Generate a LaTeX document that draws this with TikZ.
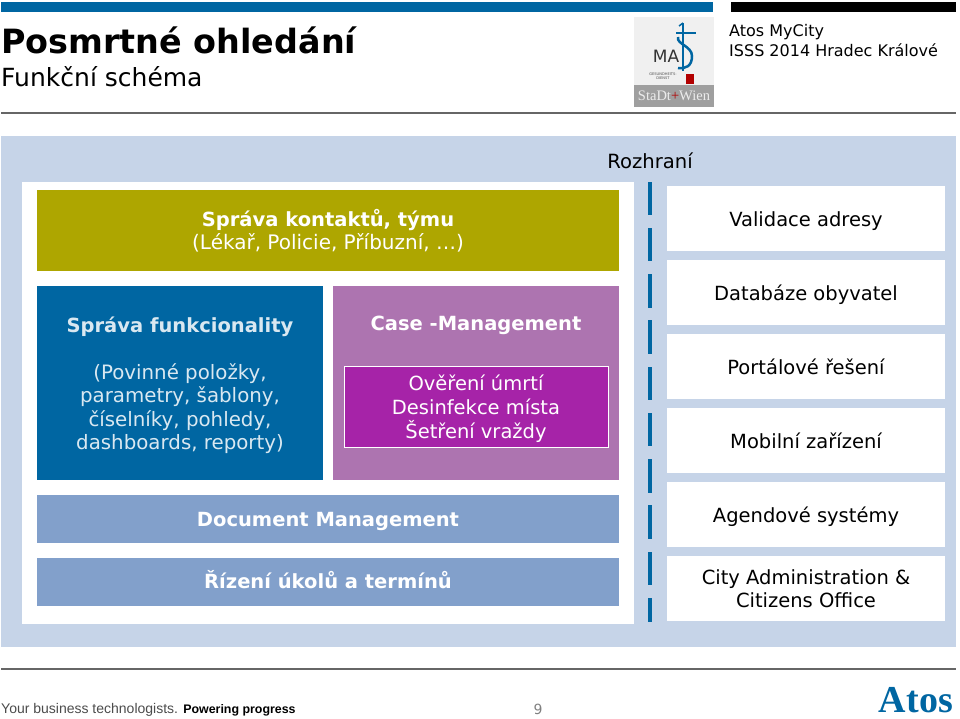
\documentclass[tikz,border=0pt]{standalone}
\usepackage{fontspec}
\setmainfont{DejaVu Sans}
\newfontfamily\footfont{Liberation Sans}
\newfontfamily\logofont{Liberation Serif}
\definecolor{barblue}{HTML}{0066A2}
\definecolor{panelblue}{HTML}{C6D4E8}
\definecolor{oliveb}{HTML}{AEA600}
\definecolor{purpleb}{HTML}{AD74B0}
\definecolor{magentab}{HTML}{A623A8}
\definecolor{steelb}{HTML}{82A0CB}
\definecolor{rulegray}{HTML}{666666}
\tikzset{
  colbox/.style={draw=none,inner sep=0pt,align=center,text=white,font=\fontsize{19.5}{24}\selectfont},
  bandbox/.style={colbox,fill=steelb,minimum width=582pt,minimum height=48pt,text height=14pt,text depth=0pt},
  sidebox/.style={fill=white,inner sep=0pt,align=center,minimum width=278pt,minimum height=65pt,font=\fontsize{19.5}{23.5}\selectfont},
  sideline/.style={sidebox,text height=15pt,text depth=0pt}
}
\begin{document}
\begin{tikzpicture}[x=1pt,y=-1pt]
\useasboundingbox (0,0) rectangle (960,718);
\fill[white] (0,0) rectangle (960,718);

% head
\fill[barblue] (1,2) rectangle (713,12);
\fill[black] (731,2) rectangle (956,12);
\fill[rulegray] (1,112) rectangle (956,114);
\node[anchor=base west,inner sep=0pt,font=\fontsize{33.4}{36}\selectfont\bfseries] (title) at (1,53.5) {Posmrtné ohledání};
\node[anchor=base west,inner sep=0pt,font=\fontsize{25}{28}\selectfont] (subtitle) at (1,86.5) {Funkční schéma};
\node[anchor=base west,inner sep=0pt,font=\fontsize{16}{20}\selectfont] (event1) at (729,36.5) {Atos MyCity};
\node[anchor=base west,inner sep=0pt,font=\fontsize{16}{20}\selectfont] (event2) at (729,56.5) {ISSS 2014 Hradec Králové};

% logo
\fill[gray!12] (634,17) rectangle (714,107);
\fill[gray!75] (634,85) rectangle (714,107);
\node[inner sep=0pt,font=\fontsize{17}{18}\selectfont,text=black!80] (mas) at (666,56) {MA};
\draw[barblue,line width=2pt] (683,23) -- (683,71);
\draw[barblue,line width=1.5pt] (679,26) -- (683,23);
\draw[barblue,line width=1.5pt] (676,33) -- (696,33);
\draw[barblue,line width=2.5pt] (678,37) .. controls (676,44) and (692,46) .. (692,56) .. controls (692,66) and (686,69) .. (678,68);
\fill[red!70!black] (686,74) rectangle (694,84);
\node[inner sep=0pt,font=\fontsize{3.6}{4.5}\selectfont,align=center,text=black!70] (dienst) at (663,76) {GESUNDHEITS-\\DIENST};
\node[inner sep=0pt,font=\logofont\fontsize{14.5}{15}\selectfont,text=white!85!gray] (wien) at (674,96) {StaDt\textcolor{red!70!black}{+}Wien};

% back panels
\fill[panelblue] (1,136) rectangle (956,647);
\fill[white] (22,182) rectangle (634,624);
\node[inner sep=0pt,font=\fontsize{19.6}{24}\selectfont] (rozhrani) at (650,161) {Rozhraní};

% left blocks
\node[colbox,fill=oliveb,minimum width=582pt,minimum height=81pt] (kontakty) at (328,230.5) {\textbf{Správa kontaktů, týmu}\\[-1pt]{\fontsize{20}{23}\selectfont (Lékař, Policie, Příbuzní, …)}};
\node[colbox,fill=barblue,minimum width=286pt,minimum height=194pt] (funkce) at (180,383) {};
\node[colbox,text=white!85!barblue] (funkcet) at (180,327) {\textbf{Správa funkcionality}};
\node[colbox,text=white!85!barblue,font=\fontsize{19.8}{23.5}\selectfont] (funkced) at (180,408.5) {(Povinné položky,\\parametry, šablony,\\číselníky, pohledy,\\dashboards, reporty)};
\node[colbox,fill=purpleb,minimum width=286pt,minimum height=194pt] (casebox) at (476,383) {};
\node[colbox] (caset) at (476,325) {\textbf{Case -Management}};
\node[colbox,draw=white,line width=1pt,fill=magentab,minimum width=264pt,minimum height=81pt] (overeni) at (476,406.5) {};
\node[colbox,font=\fontsize{19.5}{24}\selectfont] (overenit) at (476,408.5) {Ověření úmrtí\\Desinfekce místa\\Šetření vraždy};
\node[bandbox] (dms) at (328,519) {\textbf{Document Management}};
\node[bandbox] (ukoly) at (328,581.5) {\textbf{Řízení úkolů a termínů}};

% interface dashes
\foreach \y/\h in {182/33,228/33,274/34,320/34,367/33,413/33,459/34,505/34,552/33,598/24}
  \fill[barblue] (648,\y) rectangle (652,\y+\h);

% right boxes
\node[sideline] (adresy) at (806,218.5) {Validace adresy};
\node[sideline] (obyvatel) at (806,292.5) {Databáze obyvatel};
\node[sideline] (portal) at (806,366.5) {Portálové řešení};
\node[sideline] (mobil) at (806,440.5) {Mobilní zařízení};
\node[sideline] (agenda) at (806,514.5) {Agendové systémy};
\node[sidebox] (city) at (806,588.5) {City Administration \&\\Citizens Office};

% foot
\fill[rulegray] (1,668) rectangle (956,670);
\node[anchor=base west,inner sep=0pt,font=\footfont\fontsize{14}{16}\selectfont,text=black!70] (claim) at (1,713) {Your business technologists. \textcolor{black}{\fontsize{12.4}{16}\selectfont\bfseries Powering progress}};
\node[inner sep=0pt,font=\fontsize{14}{16}\selectfont,text=black!50] (page) at (538,709) {9};
\node[anchor=base east,inner sep=0pt,font=\logofont\fontsize{38}{40}\selectfont\bfseries,text=barblue] (atos) at (953,712) {Atos};
\end{tikzpicture}
\end{document}
